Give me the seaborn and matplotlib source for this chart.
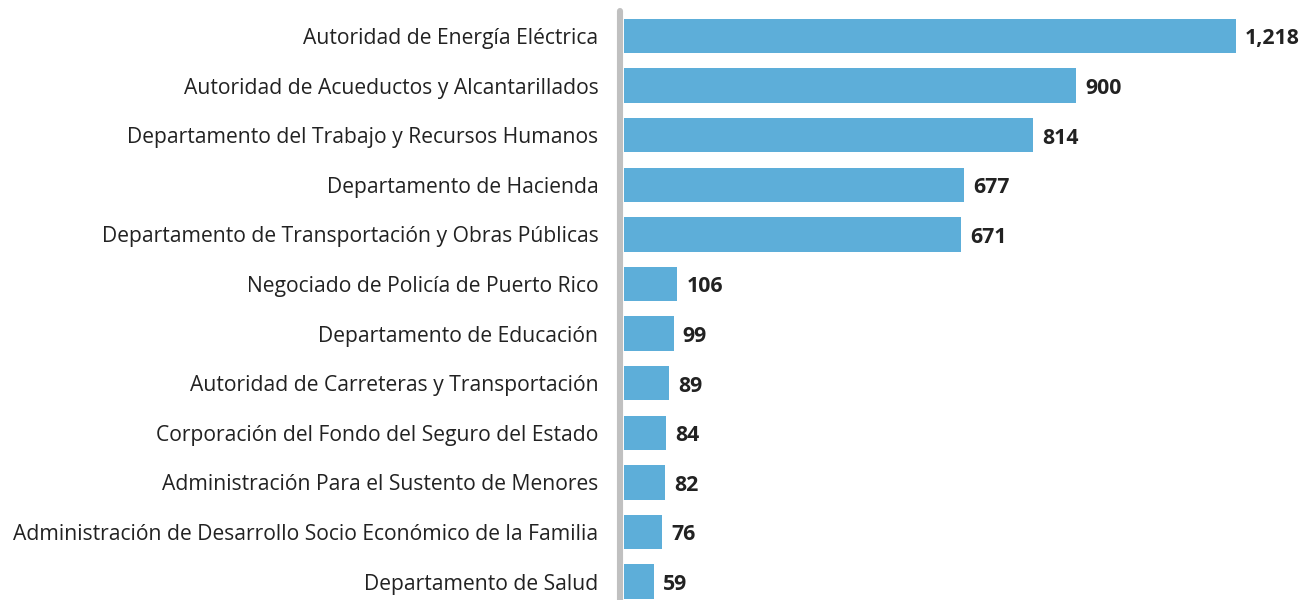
import matplotlib
matplotlib.use("Agg")
import matplotlib.pyplot as plt
import pandas as pd
import seaborn as sns

# agencies and counts
agencies = [
    "Autoridad de Energía Eléctrica",
    "Autoridad de Acueductos y Alcantarillados",
    "Departamento del Trabajo y Recursos Humanos",
    "Departamento de Hacienda",
    "Departamento de Transportación y Obras Públicas",
    "Negociado de Policía de Puerto Rico",
    "Departamento de Educación",
    "Autoridad de Carreteras y Transportación",
    "Corporación del Fondo del Seguro del Estado",
    "Administración Para el Sustento de Menores",
    "Administración de Desarrollo Socio Económico de la Familia",
    "Departamento de Salud",
]
counts = [1218, 900, 814, 677, 671, 106, 99, 89, 84, 82, 76, 59]

df = pd.DataFrame({"agency": agencies, "count": counts})

sns.set_theme(style="white")
plt.rcParams["font.family"] = ["Open Sans", "DejaVu Sans"]

W, H = 1310, 600
fig = plt.figure(figsize=(W / 100, H / 100), dpi=100)
# axes from the bar baseline to the right edge, full height
ax = fig.add_axes([624 / W, 0, (1305 - 624) / W, 1])

bar_color = "#5DAED9"
sns.barplot(data=df, x="count", y="agency", orient="h", color=bar_color,
            width=0.69, saturation=1, linewidth=0, ax=ax)

px_per_unit = (1236 - 624) / 1218
ax.set_xlim(0, (1305 - 624) / px_per_unit)
pitch = 49.6
ax.set_ylim((600 - 36) / pitch, -36 / pitch)

for i, v in enumerate(counts):
    ax.text(v + 18, i + 0.06, f"{v:,}", va="center", ha="left",
            fontsize=15.3, fontweight="bold", color="#222222")

ax.set_yticks(range(len(agencies)))
ax.set_yticklabels(agencies, fontsize=15.25, color="#222222")
ax.tick_params(axis="y", length=0, pad=18.5)
ax.set_xticks([])
ax.set_xlabel("")
ax.set_ylabel("")
for s in ax.spines.values():
    s.set_visible(False)

# gray baseline with rounded top
ax.plot([-8, -8], [-0.5, 12.5], color="#C0C0C0", lw=4.4,
        solid_capstyle="round", clip_on=False, zorder=5)

fig.savefig("out.png", dpi=100)
